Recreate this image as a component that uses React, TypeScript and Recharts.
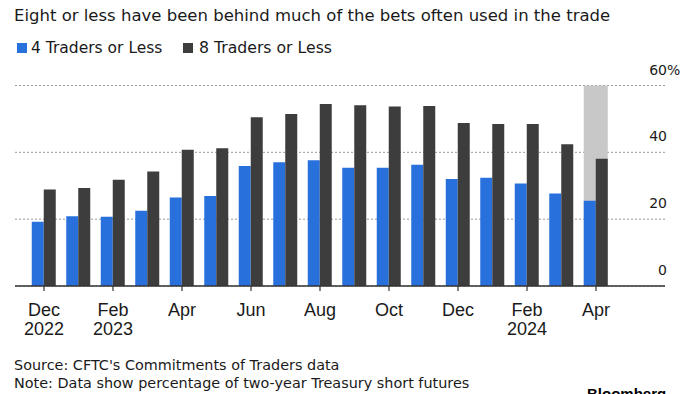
import React from "react"
import {
  BarChart,
  Bar,
  XAxis,
  YAxis,
  CartesianGrid,
} from "recharts"

const MONTHS = [
  "Dec 2022", "Jan 2023", "Feb 2023", "Mar 2023", "Apr 2023", "May 2023",
  "Jun 2023", "Jul 2023", "Aug 2023", "Sep 2023", "Oct 2023", "Nov 2023",
  "Dec 2023", "Jan 2024", "Feb 2024", "Mar 2024", "Apr 2024",
]
const FOUR_TRADERS = [19.2, 20.9, 20.7, 22.5, 26.5, 26.9, 35.9, 37.0, 37.6, 35.4, 35.4, 36.3, 32.0, 32.4, 30.7, 27.7, 25.5]
const EIGHT_TRADERS = [28.9, 29.3, 31.8, 34.3, 40.8, 41.2, 50.5, 51.5, 54.5, 54.1, 53.7, 53.9, 48.8, 48.5, 48.5, 42.4, 38.1]
const Y_TICKS = [0, 20, 40, 60]
const HIGHLIGHT_MONTH = "Apr 2024"

const BLUE = "#2870dc"
const DARK = "#3d3d3d"
const TEXT = "#1a1a1a"
const FONT = "'DejaVu Sans', Verdana, sans-serif"
const AXIS_FONT = "'Liberation Sans Narrow', 'Arial Narrow', 'Liberation Sans', sans-serif"

const data = MONTHS.map((month, i) => ({
  month,
  four: FOUR_TRADERS[i],
  eight: EIGHT_TRADERS[i],
}))

// grey band behind the latest pair of bars (drawn as the blue bar's background)
function HighlightBackground(props: any) {
  const { x, y, width, height, index } = props
  if (MONTHS[index] !== HIGHLIGHT_MONTH) return <g />
  return <rect x={x} y={y} width={width * 2} height={height} fill="#c8c8c8" />
}

function MonthTick(props: any) {
  const { x, y, payload } = props
  const value: string = payload.value
  const i = MONTHS.indexOf(value)
  const [mon, year] = value.split(" ")
  const prevYear = i >= 2 ? MONTHS[i - 2].split(" ")[1] : null
  const showYear = prevYear !== year
  return (
    <g>
      <text x={x} y={y + 25} textAnchor="middle" fill={TEXT} fontSize={18} fontFamily={AXIS_FONT}>
        {mon}
      </text>
      {showYear && (
        <text x={x} y={y + 44} textAnchor="middle" fill={TEXT} fontSize={18} fontFamily={AXIS_FONT}>
          {year}
        </text>
      )}
    </g>
  )
}

function ValueTick(props: any) {
  const { x, y, payload } = props
  const isTop = payload.value === Y_TICKS[Y_TICKS.length - 1]
  return (
    <g>
      <text x={x + 2} y={y - 11} textAnchor="end" fill={TEXT} fontSize={14} fontFamily={FONT}>
        {payload.value}
      </text>
      {isTop && (
        <text x={x + 2} y={y - 11} textAnchor="start" fill={TEXT} fontSize={14} fontFamily={FONT}>
          %
        </text>
      )}
    </g>
  )
}

export default function App() {
  return (
    <div style={{ position: "absolute", left: 0, top: 0, width: 700, height: 394, background: "#fff", overflow: "hidden" }}>
      <BarChart
        width={700}
        height={394}
        data={data}
        margin={{ top: 85.5, right: 0, bottom: 78, left: 15 }}
        barSize={12}
        barGap={0}
      >
        <CartesianGrid vertical={false} stroke="#9a9a9a" strokeDasharray="2 2" />
        <XAxis
          dataKey="month"
          interval={1}
          height={30}
          padding={{ left: 11.75, right: 51.75 }}
          axisLine={{ stroke: "#333", strokeWidth: 1.5 }}
          tickLine={{ stroke: "#333", strokeWidth: 1.2 }}
          tickSize={5}
          tickMargin={0}
          tick={<MonthTick />}
        />
        <YAxis
          orientation="right"
          width={35}
          domain={[0, 60]}
          ticks={Y_TICKS}
          axisLine={false}
          tickLine={false}
          tickSize={0}
          tickMargin={0}
          tick={<ValueTick />}
        />
        <Bar dataKey="four" fill={BLUE} isAnimationActive={false} background={HighlightBackground} />
        <Bar dataKey="eight" fill={DARK} isAnimationActive={false} />
      </BarChart>

      <svg width={700} height={394} style={{ position: "absolute", left: 0, top: 0, pointerEvents: "none" }}>
        <text x={14} y={21} fontSize={16.5} fontFamily={FONT} fill={TEXT}>
          Eight or less have been behind much of the bets often used in the trade
        </text>
        <rect x={17} y={43} width={10} height={10} fill={BLUE} />
        <text x={31} y={53} fontSize={15.5} fontFamily={FONT} fill={TEXT}>4 Traders or Less</text>
        <rect x={183} y={43} width={10} height={10} fill={DARK} />
        <text x={199} y={53} fontSize={15.7} fontFamily={FONT} fill={TEXT}>8 Traders or Less</text>
        <text x={14} y={370} fontSize={14.4} fontFamily={FONT} fill={TEXT}>
          Source: CFTC's Commitments of Traders data
        </text>
        <text x={14} y={388} fontSize={14.4} fontFamily={FONT} fill={TEXT}>
          Note: Data show percentage of two-year Treasury short futures
        </text>
        <text x={587} y={399} fontSize={15} fontWeight="bold" fontFamily="'Liberation Sans', Arial, sans-serif" fill="#000">
          Bloomberg
        </text>
      </svg>
    </div>
  )
}
